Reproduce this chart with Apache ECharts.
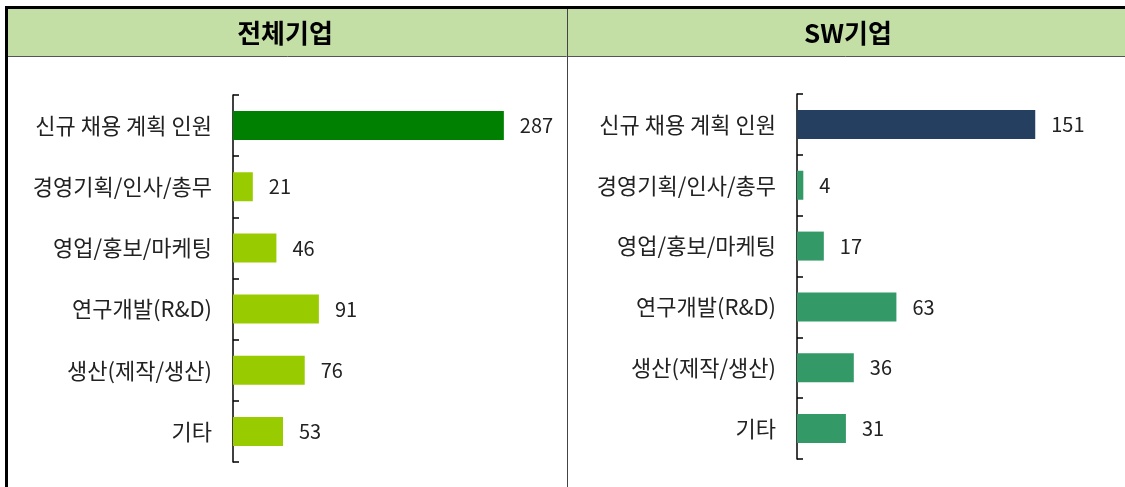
<!DOCTYPE html>
<html>
<head>
<meta charset="utf-8">
<script src="https://cdn.jsdelivr.net/npm/echarts@6/dist/echarts.min.js"></script>
<style>
  html, body { margin: 0; padding: 0; background: #fff; }
  #chart { width: 1125px; height: 487px; }
</style>
</head>
<body>
<div id="chart"></div>
<script>
  var categories = ['신규 채용 계획 인원', '경영기획/인사/총무', '영업/홍보/마케팅', '연구개발(R&D)', '생산(제작/생산)', '기타']
  var allValues = [287, 21, 46, 91, 76, 53]
  var swValues = [151, 4, 17, 63, 36, 31]
  var panelTitles = ['전체기업', 'SW기업']

  var font = '"Noto Sans CJK KR", "Noto Sans", sans-serif'

  // first bar is the total, others are the breakdown
  function toItems(values, firstColor, restColor) {
    return values.map(function (v, i) {
      return { value: v, itemStyle: { color: i === 0 ? firstColor : restColor } }
    })
  }

  function yAxisFor(gridIndex) {
    return {
      type: 'category',
      gridIndex: gridIndex,
      data: categories,
      inverse: true,
      boundaryGap: true,
      axisLine: { show: true, lineStyle: { color: '#000', width: 1.5 } },
      axisTick: { show: true, inside: true, alignWithLabel: false, interval: 0, length: 6, lineStyle: { color: '#000', width: 1.5 } },
      axisLabel: { margin: 21, color: '#222', fontSize: 22, fontFamily: font }
    }
  }

  function xAxisFor(gridIndex, max) {
    return {
      type: 'value', gridIndex: gridIndex, min: 0, max: max, show: false,
      splitLine: { show: false }
    }
  }

  function barSeries(idx, items) {
    return {
      type: 'bar',
      xAxisIndex: idx,
      yAxisIndex: idx,
      data: items,
      barWidth: 29,
      animation: false,
      label: {
        show: true, position: 'right', distance: 16,
        color: '#222', fontSize: 20, fontFamily: font
      }
    }
  }

  var myChart = echarts.init(document.getElementById('chart'))
  var option = {
    backgroundColor: '#fff',
    textStyle: { fontFamily: font },
    graphic: [
      { type: 'rect', z: -10, shape: { x: 8, y: 9, width: 1117, height: 47 }, style: { fill: '#c4dfa6' } },
      { type: 'rect', z: -9, shape: { x: 5, y: 6, width: 1120, height: 3 }, style: { fill: '#000' } },
      { type: 'rect', z: -9, shape: { x: 5, y: 6, width: 3, height: 481 }, style: { fill: '#000' } },
      { type: 'line', z: -9, shape: { x1: 8, y1: 56.5, x2: 1125, y2: 56.5 }, style: { stroke: '#555', lineWidth: 1 } },
      { type: 'line', z: -9, shape: { x1: 567.5, y1: 9, x2: 567.5, y2: 487 }, style: { stroke: '#444', lineWidth: 1 } },
      { type: 'text', x: 285, y: 33, style: { text: panelTitles[0], fill: '#000', font: 'bold 26px ' + font, align: 'center', verticalAlign: 'middle' } },
      { type: 'text', x: 848, y: 33, style: { text: panelTitles[1], fill: '#000', font: 'bold 26px ' + font, align: 'center', verticalAlign: 'middle' } }
    ],
    grid: [
      { left: 233, top: 95, width: 302, height: 367 },
      { left: 797, top: 94, width: 284, height: 365 }
    ],
    xAxis: [xAxisFor(0, 320), xAxisFor(1, 180)],
    yAxis: [yAxisFor(0), yAxisFor(1)],
    series: [
      barSeries(0, toItems(allValues, '#008000', '#99cc00')),
      barSeries(1, toItems(swValues, '#243f60', '#339966'))
    ]
  }
  myChart.setOption(option)
</script>
</body>
</html>
